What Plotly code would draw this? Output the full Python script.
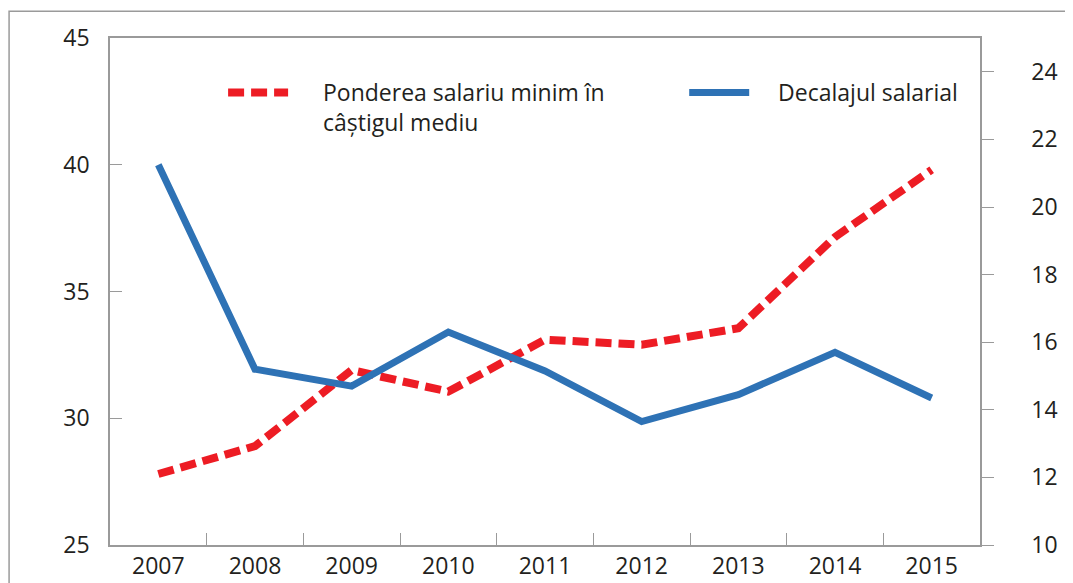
import plotly.graph_objects as go

years = ["2007", "2008", "2009", "2010", "2011", "2012", "2013", "2014", "2015"]
ponderea = [27.8, 28.9, 31.9, 31.05, 33.1, 32.9, 33.55, 37.15, 39.8]
decalaj = [21.25, 15.2, 14.7, 16.3, 15.15, 13.65, 14.45, 15.7, 14.35]

left_ticks = [25, 30, 35, 40, 45]
right_ticks = [10, 12, 14, 16, 18, 20, 22, 24]

axis_col = "#9a9a9a"
font = dict(family="Open Sans", size=23, color="#231f20")

fig = go.Figure()
fig.add_trace(go.Scatter(
    x=years, y=ponderea, mode="lines",
    name="\u00a0" * 5 + "Ponderea salariu minim în<br>" + "\u00a0" * 5 + "câștigul mediu",
    line=dict(color="#ed1c24", width=8, dash="16px,7px"),
    legend="legend",
))
fig.add_trace(go.Scatter(
    x=years, y=decalaj, mode="lines", yaxis="y2",
    name="\u00a0" * 4 + "Decalajul salarial",
    line=dict(color="#2e72b5", width=7),
    legend="legend2",
))

leg = dict(yanchor="top", xanchor="left", itemwidth=60, valign="top",
           bgcolor="rgba(0,0,0,0)", font=font)

fig.update_layout(
    width=1065, height=575,
    margin=dict(l=102, r=93, t=30, b=38),
    paper_bgcolor="white", plot_bgcolor="white",
    font=font,
    showlegend=True,
    legend=dict(x=0.13, y=0.935, **leg),
    legend2=dict(x=0.66, y=0.935, **leg),
    xaxis=dict(
        type="category", range=[-0.5, 8.5], showline=True, linecolor=axis_col,
        linewidth=1.5, mirror=True, ticks="inside", tickson="boundaries",
        ticklen=12, tickcolor=axis_col, showgrid=False, zeroline=False,
        automargin=False,
    ),
    yaxis=dict(
        range=[25, 45], tickvals=left_ticks, showline=True, linecolor=axis_col,
        linewidth=1.5, ticks="inside", ticklen=12, tickcolor=axis_col,
        showgrid=False, zeroline=False, ticklabelstandoff=14, automargin=False,
    ),
    yaxis2=dict(
        range=[10, 25], tickvals=right_ticks, overlaying="y", side="right",
        showline=True, linecolor=axis_col, linewidth=1.5, ticks="outside",
        ticklen=12, tickcolor=axis_col, showgrid=False, zeroline=False,
        ticklabelstandoff=33, automargin=False,
    ),
    shapes=[dict(
        type="rect", xref="paper", yref="paper",
        x0=-0.116, x1=1.3, y0=-0.3, y1=1.053,
        line=dict(color=axis_col, width=1.5), layer="below",
    )],
)

fig.write_html("out.html")
